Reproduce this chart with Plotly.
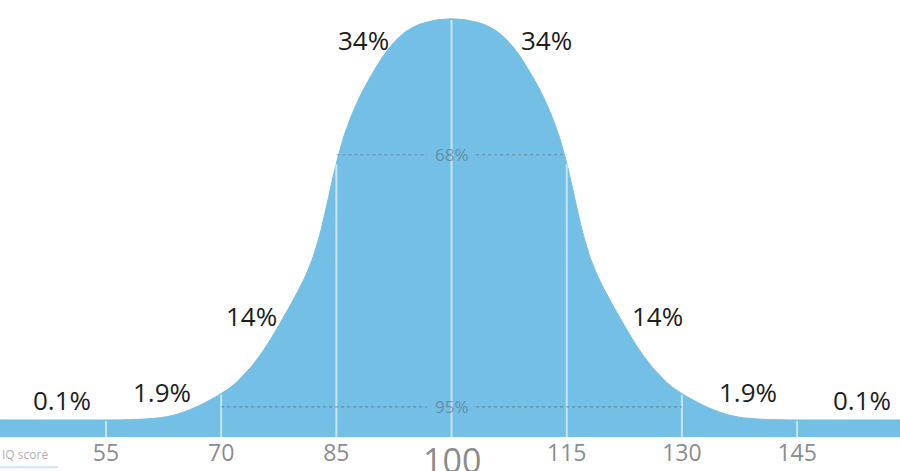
import numpy as np
import plotly.graph_objects as go

# ---- data ----
curve_x = [41.2, 55, 58, 60, 62, 63, 64, 65, 66, 67, 68, 69, 70, 71, 72, 73, 74, 75, 76, 77, 78,
           79, 80, 81, 82, 83, 84, 85, 86, 87, 88, 89, 90, 91, 92, 93, 94, 95, 96, 98, 100,
           102, 104, 105, 106, 107, 108, 109, 110, 111, 112, 113, 114, 115, 116, 117, 118,
           119, 120, 121, 122, 123, 124, 125, 126, 127, 128, 129, 130, 131, 132, 133, 134,
           135, 136, 137, 138, 140, 142, 145, 158.4]
curve_y = [4.07, 4.07, 4.15, 4.3, 4.6, 4.9, 5.3, 5.9, 6.6, 7.4, 8.3, 9.3, 10.4, 11.6, 13.1, 15.0,
           17.0, 19.4, 22.1, 25.1, 28.3, 31.5, 34.9, 38.6, 43.2, 49.5, 57.5, 65.5, 72.0, 77.0,
           81.2, 84.7, 87.9, 90.8, 93.3, 95.3, 96.9, 98.0, 98.8, 99.7, 100,
           99.7, 98.8, 98.0, 96.9, 95.3, 93.3, 90.8, 87.9, 84.7, 81.2, 77.0, 72.0, 65.5, 57.5,
           49.5, 43.2, 38.6, 34.9, 31.5, 28.3, 25.1, 22.1, 19.4, 17.0, 15.0, 13.1, 11.6, 10.4,
           9.3, 8.3, 7.4, 6.6, 5.9, 5.3, 4.9, 4.6, 4.3, 4.15, 4.07, 4.07]

divider_x = [55, 70, 85, 100, 115, 130, 145]
tick_vals = [55, 70, 85, 100, 115, 130, 145]
tick_text = ["55", "70", "85", "", "115", "130", "145"]
center_tick = 100
center_tick_text = "100"

pct_labels = ["0.1%", "1.9%", "14%", "34%", "34%", "14%", "1.9%", "0.1%"]
pct_x = [49.3, 62.3, 74.0, 88.5, 112.4, 126.8, 138.6, 153.5]
pct_y = [8.9, 10.8, 28.9, 95.0, 95.0, 28.9, 10.8, 8.9]

band_labels = ["68%", "95%"]
band_from = [85, 70]
band_to = [115, 130]
band_y = [67.5, 7.2]

X_RANGE = [41.2, 158.4]
Y_RANGE = [0, 104.5]
FILL = "#74BFE6"
GAP = 3.2

fig = go.Figure()

fig.add_trace(go.Scatter(
    x=curve_x, y=curve_y, mode="lines", fill="tozeroy",
    fillcolor=FILL, line=dict(color=FILL, width=1, shape="spline", smoothing=0.6),
    hoverinfo="skip", showlegend=False))

# white divider lines from baseline to the curve
for xv in divider_x:
    top = float(np.interp(xv, curve_x, curve_y))
    fig.add_trace(go.Scatter(
        x=[xv, xv], y=[0, top - 0.3], mode="lines",
        line=dict(color="rgba(255,255,255,0.6)", width=2),
        hoverinfo="skip", showlegend=False))

# dashed band lines with labels
for lab, a, b, yv in zip(band_labels, band_from, band_to, band_y):
    mid = (a + b) / 2
    for seg in ([a, mid - GAP], [mid + GAP, b]):
        fig.add_trace(go.Scatter(
            x=seg, y=[yv, yv], mode="lines",
            line=dict(color="rgba(80,80,80,0.45)", width=1.2, dash="dot"),
            hoverinfo="skip", showlegend=False))
    fig.add_annotation(x=mid, y=yv, text=lab, showarrow=False,
                       font=dict(family="Open Sans", size=17, color="rgba(85,95,105,0.55)"))

for t, xv, yv in zip(pct_labels, pct_x, pct_y):
    fig.add_annotation(x=xv, y=yv, text=t, showarrow=False,
                       font=dict(family="Open Sans", size=26, color="#1e1e1e"))

# enlarged centre tick label
fig.add_annotation(x=center_tick, xref="x", yref="paper", y=-0.052, yanchor="middle",
                   text=center_tick_text, showarrow=False,
                   font=dict(family="Open Sans", size=34, color="#8c8c8c"))

fig.add_annotation(xref="paper", yref="paper", x=0, y=-0.04, xanchor="left", yanchor="middle",
                   text="IQ score", showarrow=False,
                   font=dict(family="Open Sans", size=12, color="#b0b0b0"))
fig.add_shape(type="line", xref="paper", yref="paper", x0=0, x1=0.064, y0=-0.069, y1=-0.069,
              line=dict(color="#cfe5f2", width=2))

fig.update_xaxes(range=X_RANGE, tickvals=tick_vals, ticktext=tick_text, showgrid=False,
                 zeroline=False, showline=False, ticks="",
                 tickfont=dict(family="Open Sans", size=23, color="#8c8c8c"))
fig.update_yaxes(range=Y_RANGE, visible=False, showgrid=False, zeroline=False)

fig.update_layout(width=900, height=471, autosize=False,
                  margin=dict(l=0, r=0, t=0, b=34, autoexpand=False),
                  paper_bgcolor="white", plot_bgcolor="white")

fig.write_html("out.html", config={"displayModeBar": False},
               post_script="document.body.style.margin='0';document.body.style.overflow='hidden';")
